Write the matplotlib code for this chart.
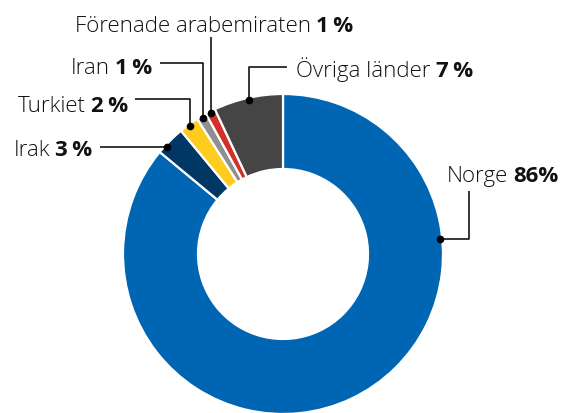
import numpy as np
import matplotlib
matplotlib.use("Agg")
import matplotlib.pyplot as plt

countries = ["Norge", "Irak", "Turkiet", "Iran", "Förenade arabemiraten", "Övriga länder"]
shares = [86, 3, 2, 1, 1, 7]
share_labels = ["86%", "3\u2009%", "2\u2009%", "1\u2009%", "1\u2009%", "7\u2009%"]
colors = ["#0066b3", "#003764", "#fecb1f", "#8f8f8f", "#d3302a", "#454545"]

W, H = 564, 414
FAM = ["Open Sans", "DejaVu Sans"]
FS = 16

fig = plt.figure(figsize=(W / 100, H / 100), dpi=100)
ax = fig.add_axes([0, 0, 1, 1])

cx, cy, R, ring = 283, 255, 160, 75
wedges, _ = ax.pie(shares, colors=colors, startangle=90, counterclock=False,
                   center=(cx, H - cy), radius=R,
                   wedgeprops=dict(width=ring, edgecolor="white", linewidth=1.6))
ax.set_xlim(0, W)
ax.set_ylim(0, H)
ax.set_aspect("equal")
ax.axis("off")

# label layout in pixels from top: (side, text x, baseline y, leader path kind, params)
# dot position along wedge (fraction of its angle)
dot_frac = [0.727, 0.71, 0.5, 0.5, 0.5, 0.5]
layout = [
    ("left", 447, 182, "norge", (469, 192)),
    ("right", 92, 156, "flat", (100,)),
    ("right", 128, 111.5, "elbow", (100, 135)),
    ("right", 152, 74, "elbow", (64, 160)),
    ("left", 75, 31.5, "up", (38,)),
    ("left", 296, 77, "elbow", (68, 287)),
]

renderer = fig.canvas.get_renderer()
gap = 5

for w, f, name, pct, (side, tx, ty, kind, p) in zip(wedges, dot_frac, countries, share_labels, layout):
    ang = np.radians(w.theta1 + f * (w.theta2 - w.theta1))
    dx = cx + 158 * np.cos(ang)
    dy = cy - 158 * np.sin(ang)
    if kind == "norge":
        pts = [(dx, dy), (p[0], dy), (p[0], p[1])]
    elif kind == "flat":
        pts = [(dx, dy), (p[0], dy)]
    elif kind == "elbow":
        pts = [(dx, dy), (dx, p[0]), (p[1], p[0])]
    else:
        pts = [(dx, dy), (dx, p[0])]
    xs = [q[0] for q in pts]
    ys = [H - q[1] for q in pts]
    ax.plot(xs, ys, color="black", lw=1.1, solid_capstyle="butt", zorder=5)
    ax.plot(dx, H - dy, "o", color="black", ms=4.5, zorder=6)

    if side == "left":
        t1 = ax.text(tx, H - ty, name, ha="left", va="baseline", fontsize=FS,
                     family=FAM, fontweight="light", color="#111111")
        bb = t1.get_window_extent(renderer)
        ax.text(bb.x1 + gap, H - ty, pct, ha="left", va="baseline", fontsize=FS,
                family=FAM, fontweight="bold", color="#111111")
    else:
        t2 = ax.text(tx, H - ty, pct, ha="right", va="baseline", fontsize=FS,
                     family=FAM, fontweight="bold", color="#111111")
        bb = t2.get_window_extent(renderer)
        ax.text(bb.x0 - gap, H - ty, name, ha="right", va="baseline", fontsize=FS,
                family=FAM, fontweight="light", color="#111111")

fig.savefig("out.png", dpi=100)
